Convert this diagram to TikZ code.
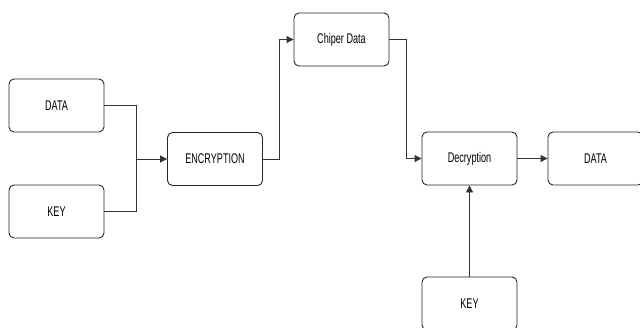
\documentclass[tikz,border=0pt]{standalone}
\usepackage{fontspec}
\setmainfont{Liberation Sans}
\usetikzlibrary{arrows.meta}
\tikzset{
  box/.style={draw=black!85, line width=0.9pt, rounded corners=5pt, minimum width=95pt, minimum height=53pt, inner sep=0pt, font=\fontsize{14}{16}\selectfont, fill=white},
  conn/.style={draw=black!80, line width=0.9pt},
  arr/.style={conn, -{Triangle[length=7pt,width=7pt]}}
}
\newcommand{\sq}[1]{\scalebox{0.65}[1]{#1}}
\begin{document}
\begin{tikzpicture}[x=1pt,y=-1pt]
\useasboundingbox (0,0) rectangle (640,327);
\fill[white] (0,0) rectangle (640,327);
\node[box] (d1) at (56.5,105.5) {\sq{DATA}};
\node[box] (k1) at (56.5,211.5) {\sq{KEY}};
\node[box] (enc) at (215,159) {\sq{ENCRYPTION}};
\node[box] (ciph) at (341.5,39.5) {\sq{Chiper Data}};
\node[box] (dec) at (469.5,158.5) {\sq{Decryption}};
\node[box] (d2) at (595.5,158.5) {\sq{DATA}};
\node[box] (k2) at (469.5,303.5) {\sq{KEY}};
\coordinate (j) at (136,159);
\coordinate (c1) at (279,159);
\coordinate (c2) at (406,39.5);
\draw[conn] (d1.east) -| (j);
\draw[conn] (k1.east) -| (j);
\draw[arr] (j) -- (enc.west);
\draw[arr] (enc.east) -- (c1) |- (ciph.west);
\draw[arr] (ciph.east) -- (c2) |- (dec.west);
\draw[arr] (dec.east) -- (d2.west);
\draw[arr] (k2.north) -- (dec.south);
\end{tikzpicture}
\end{document}
